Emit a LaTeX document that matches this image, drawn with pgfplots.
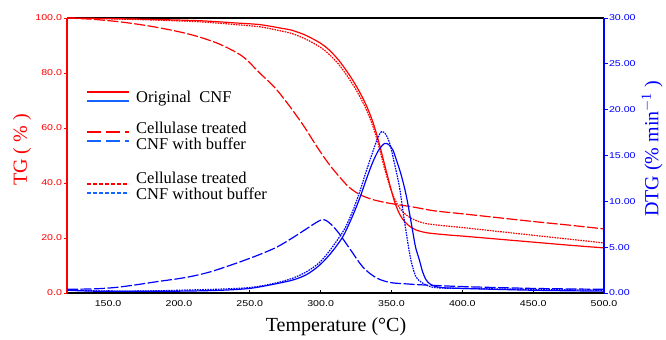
\documentclass[border=0pt]{standalone}
\usepackage{pgfplots}
\pgfplotsset{compat=1.18}
\usepackage{fontspec}
\setmainfont{Liberation Serif}
\newfontfamily\arial{Liberation Sans}
\definecolor{pred}{RGB}{255,0,0}
\definecolor{pblue}{RGB}{0,0,255}
\definecolor{legblue}{RGB}{20,100,255}
\tikzset{
  dsh/.style={dash pattern=on 11bp off 2.5bp},
  dtt/.style={dash pattern=on 1.6bp off 1bp},
}
\begin{document}
\begin{tikzpicture}
\begin{axis}[
  at={(67bp,47bp)}, anchor=south west,
  scale only axis, width=537bp, height=275bp,
  xmin=121, xmax=500, ymin=0, ymax=100,
  axis x line*=box, axis y line*=left,
  x axis line style={black, line width=1.2bp},
  y axis line style={pred, line width=1.4bp},
  xtick={150,200,...,500}, ytick={0,20,...,100},
  xtick pos=bottom, ytick pos=left,
  xtick align=inside, ytick align=outside,
  major tick length=3.5bp,
  x tick style={black, line width=0.8bp},
  y tick style={pred, line width=0.8bp},
  /pgf/number format/assume math mode=true,
  /pgf/number format/.cd, fixed, fixed zerofill, precision=1,
  /pgfplots/.cd,
  ticklabel style={font=\arial\fontsize{8.5bp}{9bp}\selectfont, xscale=1.25},
  yticklabel style={pred, inner sep=1bp},
  xticklabel style={black, yshift=-4bp},
  clip=false,
]
% Original CNF TG
\addplot[pred, line width=1.2bp, smooth] coordinates {
(121,100) (150,99.8) (180,99.5) (215,99.0) (240,98.2) (257,97.6) (271,96.4) (280,95.5)
(290,93.6) (300,90.8) (306,88.4) (313,84.5) (320,79.5) (326,74.5) (332,68.5) (337,62)
(341,55) (345,47) (349,39) (352,33.5) (355,29.5) (358,26.8) (362,24.6) (367,23)
(375,21.9) (390,21.1) (400,20.7) (425,19.6) (450,18.5) (475,17.4) (500,16.4)};
% with buffer TG
\addplot[pred, line width=1.2bp, dsh, smooth] coordinates {
(121,100) (140,99.5) (160,98.5) (180,97) (200,95) (215,93) (230,90.2) (245,86)
(257,80) (268,74.5) (278,68) (288,60.8) (297,53.5) (305,47.5) (312,43) (320,38.5)
(328,35.7) (338,33.8) (350,32.5) (365,31.3) (380,29.9) (400,28.8) (425,27.4) (450,26.0) (475,24.7) (500,23.3)};
% without buffer TG
\addplot[pred, line width=1.2bp, dtt, smooth] coordinates {
(121,100) (150,99.7) (180,99.3) (215,98.6) (240,97.6) (257,96.8) (271,95.4) (280,94.3)
(290,92.2) (300,89.3) (306,86.8) (313,83) (320,78) (326,73) (332,67) (337,60.5)
(341,53.5) (345,45.5) (349,38.5) (352,34.5) (355,31.5) (358,29.5) (362,27.8) (367,26.4)
(375,25.2) (390,24.3) (400,23.8) (425,22.4) (450,21) (475,19.6) (500,18.2)};
\end{axis}
\begin{axis}[
  at={(67bp,47bp)}, anchor=south west,
  scale only axis, width=537bp, height=275bp,
  xmin=121, xmax=500, ymin=0, ymax=30,
  axis x line=none, axis y line*=right,
  y axis line style={pblue, line width=1.4bp},
  ytick={0,5,...,30}, ytick pos=right, yticklabel pos=right,
  ytick align=outside, major tick length=3.5bp,
  y tick style={pblue, line width=0.8bp},
  /pgf/number format/assume math mode=true,
  /pgf/number format/.cd, fixed, fixed zerofill, precision=2,
  /pgfplots/.cd,
  yticklabel style={pblue, font=\arial\fontsize{8.5bp}{9bp}\selectfont, xscale=1.25, inner sep=1bp},
  clip=false,
]
% Original DTG
\addplot[pblue, line width=1.2bp, smooth] coordinates {
(121,0.3) (140,0.2) (160,0.2) (200,0.2) (230,0.3) (250,0.5) (265,0.9) (280,1.4) (290,2.0)
(299,3.0) (307,4.3) (315.5,6.1) (322,8.2) (327.5,10.3) (332,12.3) (336.6,14.2) (341,15.6)
(345,16.3) (348,16.2) (351,15.6) (353.5,14.5) (357,12.8) (360.6,10.5) (364.8,6.9) (367,5)
(369.7,3.6) (372,2.3) (374.6,1.4) (378,0.9) (385,0.6) (400,0.5) (450,0.3) (500,0.2)};
% with buffer DTG
\addplot[pblue, line width=1.2bp, dsh, smooth] coordinates {
(121,0.4) (140,0.45) (155,0.6) (170,0.9) (185,1.25) (199,1.55) (210,1.85) (222,2.3) (233,2.85)
(245,3.5) (257,4.2) (269,5.0) (280,6.0) (290,7.0) (297,7.7) (301,8.0) (304,7.9) (308,7.4)
(313,6.5) (318,5.4) (322.5,4.4) (326,3.6) (330,2.8) (335,2.1) (340,1.6) (345,1.3)
(351,1.1) (360,1.0) (370,0.9) (400,0.7) (450,0.5) (500,0.4)};
% without buffer DTG
\addplot[pblue, line width=1.2bp, dtt, smooth] coordinates {
(121,0.3) (160,0.2) (200,0.3) (250,0.6) (280,1.6) (299,3.3) (315,6.5) (322,8.7) (327.5,11)
(332,13.2) (336.6,15.3) (340,16.8) (343,17.6) (346,17.3) (349,16.2) (352,14.2) (355.6,11.6)
(359,8.0) (362.7,4.4) (365,2.8) (367.6,1.7) (371.8,1.1) (380,0.6) (400,0.5) (500,0.3)};
\end{axis}
% legend
\draw[pred, line width=1.6bp] (87bp,248bp) -- (129bp,248bp);
\draw[legblue, line width=1.6bp] (87bp,239bp) -- (129bp,239bp);
\draw[pred, line width=1.6bp, dash pattern=on 14bp off 5bp] (87bp,208bp) -- (129bp,208bp);
\draw[legblue, line width=1.6bp, dash pattern=on 14bp off 5bp] (87bp,199bp) -- (129bp,199bp);
\draw[pred, line width=1.6bp, dash pattern=on 4bp off 2bp] (87bp,156bp) -- (129bp,156bp);
\draw[legblue, line width=1.6bp, dash pattern=on 4bp off 2bp] (87bp,147bp) -- (129bp,147bp);
\begin{scope}[every node/.style={anchor=base west, inner sep=0pt, font=\fontsize{16.5bp}{18bp}\selectfont}]
\node at (136bp,237.7bp) {Original\ \ CNF};
\node at (136bp,206bp) {Cellulase treated};
\node at (136bp,190bp) {CNF with buffer};
\node at (136bp,156bp) {Cellulase treated};
\node at (136bp,140bp) {CNF without buffer};
\end{scope}
% axis labels
\node[pred, rotate=90, font=\fontsize{20bp}{24bp}\selectfont] at (22bp,190bp) {TG ( \% )};
\node[pblue, rotate=90, font=\fontsize{20bp}{24bp}\selectfont] at (652bp,191bp) {DTG (\% min$^{\mathrm{-1}}$ )};
\node[black, font=\fontsize{20bp}{24bp}\selectfont] at (336bp,13bp) {Temperature (\textdegree C)};
\pgfresetboundingbox
\useasboundingbox (0,0) rectangle (666bp,340bp);
\end{tikzpicture}
\end{document}
